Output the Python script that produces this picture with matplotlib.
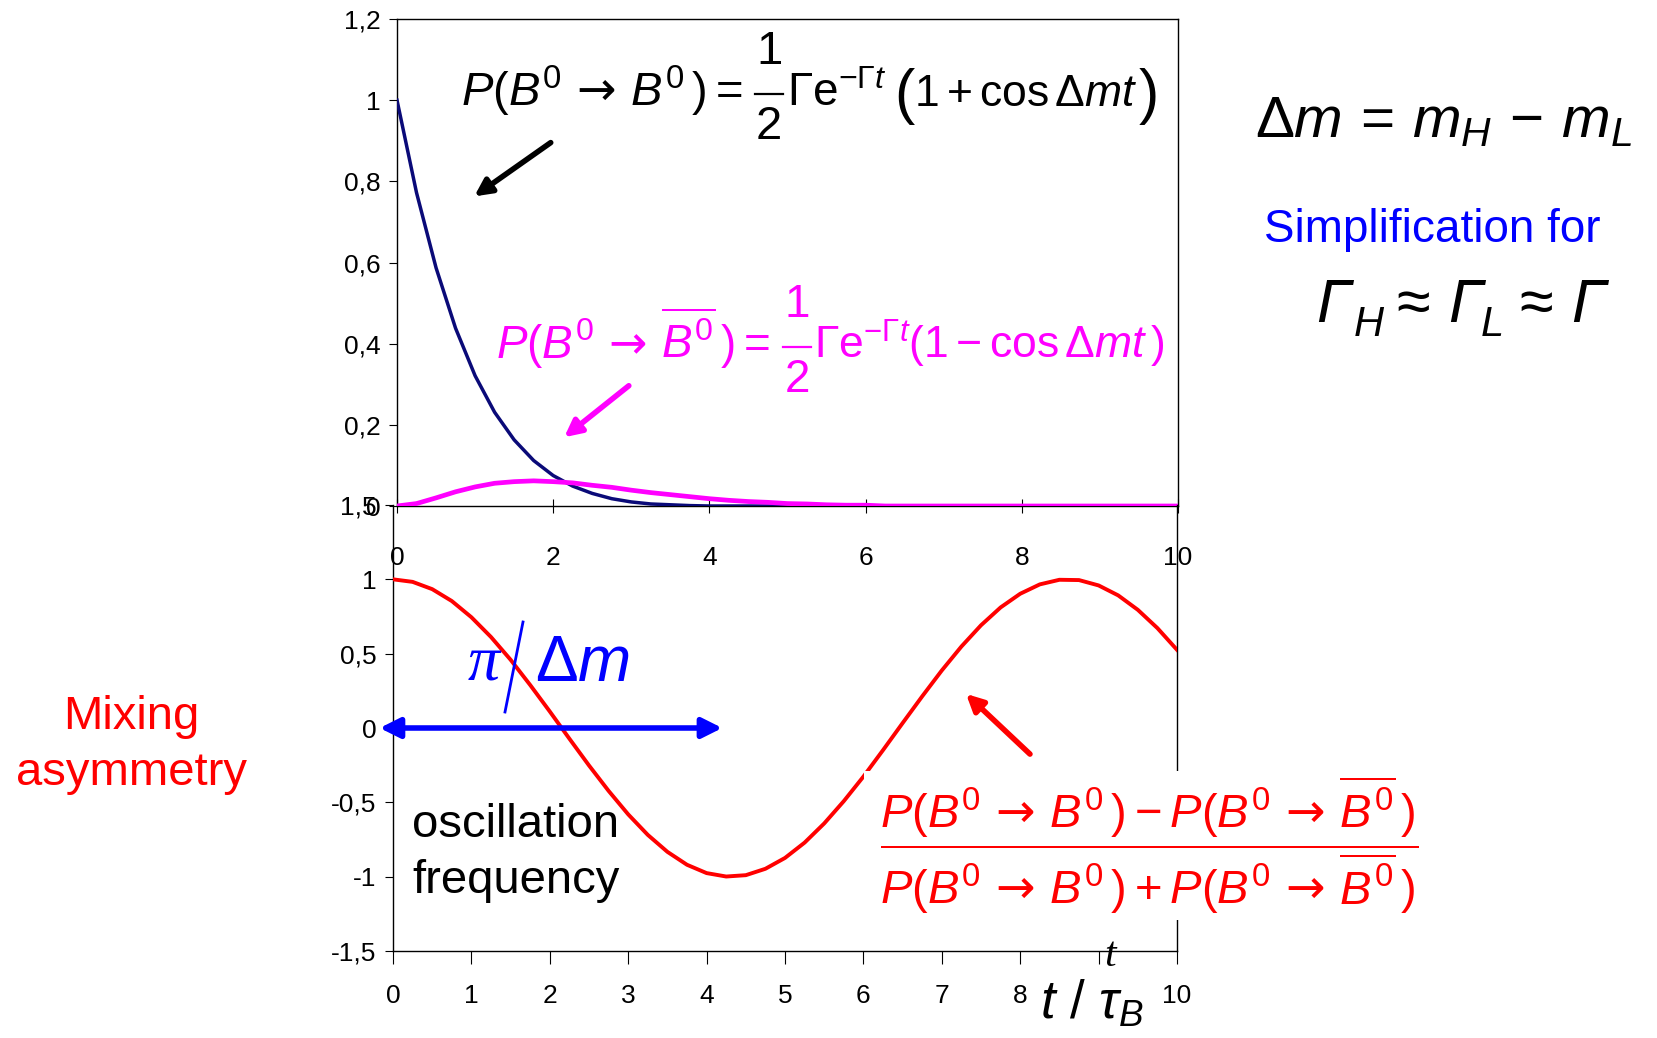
import numpy as np
import matplotlib
matplotlib.use("Agg")
import matplotlib.pyplot as plt
from matplotlib.patches import Rectangle, FancyArrowPatch
from matplotlib.lines import Line2D

plt.rcParams['mathtext.fontset'] = 'custom'
plt.rcParams['mathtext.rm'] = 'Liberation Sans'
plt.rcParams['mathtext.it'] = 'Liberation Sans:italic'
plt.rcParams['mathtext.bf'] = 'Liberation Sans:bold'
plt.rcParams['mathtext.sf'] = 'DejaVu Sans'
plt.rcParams['font.family'] = ['Liberation Sans', 'DejaVu Sans']

# time in units of tau_B
t = [0, 0.25, 0.5, 0.75, 1, 1.25, 1.5, 1.75, 2, 2.25, 2.5, 2.75, 3, 3.25, 3.5,
     3.75, 4, 4.25, 4.5, 4.75, 5, 5.25, 5.5, 5.75, 6, 6.25, 6.5, 6.75, 7, 7.25,
     7.5, 7.75, 8, 8.25, 8.5, 8.75, 9, 9.25, 9.5, 9.75, 10]
# P(B0 -> B0)
p_same = [1.0, 0.772, 0.587, 0.438, 0.321, 0.231, 0.163, 0.112, 0.075, 0.049,
          0.031, 0.018, 0.010, 0.005, 0.003, 0.001, 0.0, 0.0, 0.0, 0.0, 0.0,
          0.0, 0.0, 0.0, 0.0, 0.0, 0.0, 0.0, 0.0, 0.0, 0.0, 0.0, 0.0, 0.0,
          0.0, 0.0, 0.0, 0.0, 0.0, 0.0, 0.0]
# P(B0 -> B0bar)
p_mix = [0.0, 0.006, 0.020, 0.035, 0.047, 0.056, 0.060, 0.062, 0.060, 0.057,
         0.051, 0.046, 0.039, 0.033, 0.028, 0.023, 0.018, 0.014, 0.011, 0.009,
         0.006, 0.005, 0.003, 0.002, 0.002, 0.0, 0.0, 0.0, 0.0, 0.0, 0.0, 0.0,
         0.0, 0.0, 0.0, 0.0, 0.0, 0.0, 0.0, 0.0, 0.0]
# mixing asymmetry
asym = [1.0, 0.983, 0.934, 0.854, 0.745, 0.612, 0.459, 0.289, 0.111, -0.072,
        -0.252, -0.423, -0.581, -0.719, -0.833, -0.920, -0.976, -0.999, -0.990,
        -0.947, -0.874, -0.771, -0.642, -0.492, -0.327, -0.149, 0.033, 0.213,
        0.387, 0.548, 0.691, 0.811, 0.903, 0.966, 0.997, 0.995, 0.959, 0.892,
        0.795, 0.672, 0.526]

top_yticks = [0, 0.2, 0.4, 0.6, 0.8, 1.0, 1.2]
top_ylabels = ['0', '0,2', '0,4', '0,6', '0,8', '1', '1,2']
top_xticks = [0, 2, 4, 6, 8, 10]
bot_yticks = [-1.5, -1, -0.5, 0, 0.5, 1, 1.5]
bot_ylabels = ['-1,5', '-1', '-0,5', '0', '0,5', '1', '1,5']
bot_xticks = [0, 1, 2, 3, 4, 5, 6, 7, 8, 9, 10]

W, H = 1657, 1038
fig = plt.figure(figsize=(W / 100, H / 100), dpi=100)
fig.patch.set_facecolor('white')


def fx(x):
    return x / W


def fy(y):
    return 1 - y / H


def box(l, t_, r, b):
    return [fx(l), fy(b), fx(r) - fx(l), fy(t_) - fy(b)]


narrow = ['Liberation Sans Narrow', 'DejaVu Sans Condensed', 'Liberation Sans']
tick_kw = dict(family=narrow, size=19)

# ---- top panel: probabilities
ax1 = fig.add_axes(box(397, 19, 1178, 506))
ax1.set_facecolor('none')
ax1.plot(t, p_same, color='#0a0a78', lw=2.5, zorder=3)
ax1.plot(t, p_mix, color='#ff00ff', lw=3.4, zorder=4)
ax1.set_xlim(0, 10)
ax1.set_ylim(0, 1.2)
ax1.set_yticks(top_yticks)
ax1.set_yticklabels(top_ylabels, **tick_kw)
ax1.set_xticks(top_xticks)
ax1.set_xticklabels([str(v) for v in top_xticks], **tick_kw)
ax1.tick_params(axis='y', direction='out', length=6, pad=6)
ax1.tick_params(axis='x', direction='inout', length=10, pad=24)
for s in ax1.spines.values():
    s.set_linewidth(1.0)

# ---- bottom panel: asymmetry
ax2 = fig.add_axes(box(393, 505, 1177, 951))
ax2.set_facecolor('none')
ax2.plot(t, asym, color='#ff0000', lw=2.8, zorder=3)
ax2.set_xlim(0, 10)
ax2.set_ylim(-1.5, 1.5)
ax2.set_yticks(bot_yticks)
ax2.set_yticklabels(bot_ylabels, **tick_kw)
ax2.set_xticks(bot_xticks)
ax2.set_xticklabels([str(v) for v in bot_xticks], **tick_kw)
ax2.tick_params(axis='y', direction='out', length=6, pad=6)
ax2.tick_params(axis='x', direction='out', length=9, pad=15)
ax2.spines['top'].set_visible(False)
for s in ax2.spines.values():
    s.set_linewidth(1.0)

# blue double arrow: pi / delta m
ax2.annotate('', xy=(4.2, 0), xytext=(-0.17, 0),
             arrowprops=dict(arrowstyle='<|-|>', color='#0000ff', lw=4,
                             mutation_scale=30, shrinkA=0, shrinkB=0),
             annotation_clip=False)

# ---- texts
arr = r'\,\mathsf{\rightarrow}\,'


def half_formula(x_eq, y_base, x_frac, left, color, size):
    # left side and a big 1/2 fraction
    fig.text(fx(x_eq), fy(y_base), left, fontsize=size, color=color,
             ha='right', va='baseline')
    fig.text(fx(x_frac), fy(y_base - 42), '1', fontsize=size, color=color,
             ha='center', va='baseline')
    fig.text(fx(x_frac), fy(y_base + 33), '2', fontsize=size, color=color,
             ha='center', va='baseline')
    fig.add_artist(Line2D([fx(x_frac - 14), fx(x_frac + 14)],
                          [fy(y_base - 12), fy(y_base - 12)], color=color,
                          lw=1.6, transform=fig.transFigure))


# black: P(B0 -> B0)
half_formula(742, 106, 769, r'$P(B^0' + arr + r'B^0\,) =$', 'black', 34)
fig.text(fx(787), fy(106), r'$\Gamma\mathrm{e}^{-\Gamma t}$', fontsize=33,
         color='black', ha='left', va='baseline')
fig.text(fx(894), fy(112), '(', fontsize=44, color='black', ha='left',
         va='baseline')
fig.text(fx(914), fy(106), r'$1 + \cos\Delta m t$', fontsize=32,
         color='black', ha='left', va='baseline')
fig.text(fx(1139), fy(112), ')', fontsize=44, color='black', ha='left',
         va='baseline')

# magenta: P(B0 -> B0bar)
half_formula(770, 359, 797, r'$P(B^0' + arr + r'\overline{B^0}\,) =$',
             '#ff00ff', 33)
fig.text(fx(814), fy(359), r'$\Gamma\mathrm{e}^{-\Gamma t}(1 - \cos\Delta m t\,)$',
         fontsize=32, color='#ff00ff', ha='left', va='baseline')

fig.text(fx(1255), fy(122), r'$\Delta m\,=\,m_H\,-\,m_L$', fontsize=42,
         color='black', ha='left', va='center')
fig.text(fx(1264), fy(230), 'Simplification for', fontsize=33,
         color='#0000ff', ha='left', va='center')

# Gamma_H ~ Gamma_L ~ Gamma, italic capitals
g_kw = dict(color='black', style='italic', va='baseline')
base = fy(322)
fig.text(fx(1316), base, 'Γ', fontsize=44, ha='left', **g_kw)
fig.text(fx(1354), fy(336), 'H', fontsize=30, ha='left', **g_kw)
fig.text(fx(1396), base, '≈', fontsize=44, ha='left', color='black', va='baseline')
fig.text(fx(1448), base, 'Γ', fontsize=44, ha='left', **g_kw)
fig.text(fx(1481), fy(336), 'L', fontsize=30, ha='left', **g_kw)
fig.text(fx(1519), base, '≈', fontsize=44, ha='left', color='black', va='baseline')
fig.text(fx(1571), base, 'Γ', fontsize=44, ha='left', **g_kw)

fig.text(fx(131), fy(745), 'Mixing\nasymmetry', fontsize=34, color='#ff0000',
         ha='center', va='center', linespacing=1.35)
fig.text(fx(412), fy(853), 'oscillation\nfrequency', fontsize=34,
         color='black', ha='left', va='center', linespacing=1.35)

fig.text(fx(468), fy(664), 'π', fontsize=46, color='#0000ff',
         family='Liberation Serif', style='italic', ha='left', va='center')
fig.text(fx(535), fy(664), r'$\Delta m$', fontsize=46, color='#0000ff',
         ha='left', va='center')
fig.add_artist(Line2D([fx(523), fx(505)], [fy(622), fy(712)], color='#0000ff',
                      lw=2, transform=fig.transFigure))

# white box behind the asymmetry definition
fig.add_artist(Rectangle((fx(864), fy(920)), fx(1430) - fx(864),
                         fy(771) - fy(920), transform=fig.transFigure,
                         facecolor='white', edgecolor='none', zorder=2))
fig.text(fx(1149), fy(845),
         r'$\dfrac{P(B^0' + arr + r'B^0\,) - P(B^0' + arr + r'\overline{B^0}\,)}{P(B^0' + arr + r'B^0\,) + P(B^0' + arr + r'\overline{B^0}\,)}$',
         fontsize=34, color='#ff0000', ha='center', va='center', zorder=3)

fig.text(fx(1110), fy(956), 't', fontsize=30, family='Liberation Serif',
         style='italic', color='black', ha='center', va='center')
fig.text(fx(1092), fy(1004), r'$t\ /\ \tau_B$', fontsize=38, color='black',
         ha='center', va='center',
         bbox=dict(facecolor='white', edgecolor='none', pad=1))


# arrows pointing at the curves
def arrow(x0, y0, x1, y1, color):
    fig.add_artist(FancyArrowPatch(
        (fx(x0), fy(y0)), (fx(x1), fy(y1)), transform=fig.transFigure,
        arrowstyle='-|>', mutation_scale=25, color=color, lw=4))


arrow(553, 141, 472, 198, 'black')
arrow(631, 384, 562, 439, '#ff00ff')
arrow(1032, 756, 964, 692, '#ff0000')

fig.savefig('out.png', dpi=100)
